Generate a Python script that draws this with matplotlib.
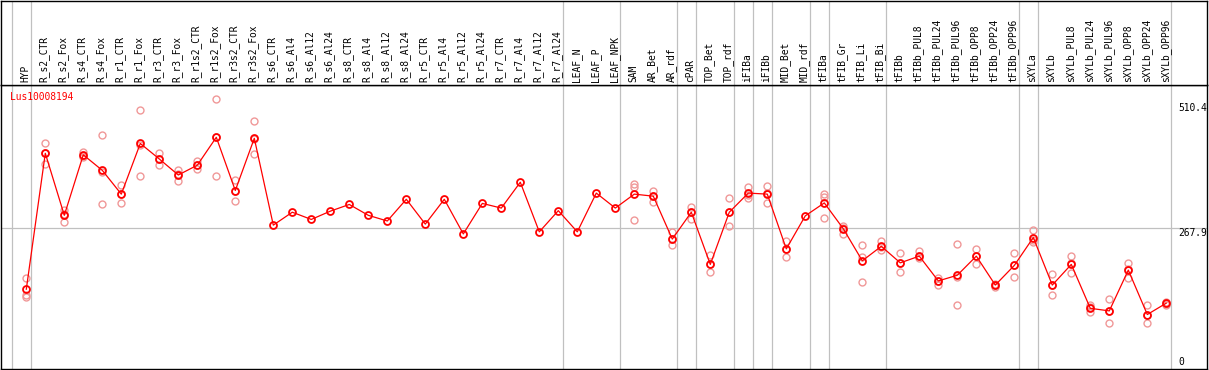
import matplotlib
matplotlib.use('Agg')
import matplotlib.pyplot as plt

# sample names along the top
samples = ['HYP', 'R_s2_CTR', 'R_s2_Fox', 'R_s4_CTR', 'R_s4_Fox', 'R_r1_CTR', 'R_r1_Fox',
           'R_r3_CTR', 'R_r3_Fox', 'R_r1s2_CTR', 'R_r1s2_Fox', 'R_r3s2_CTR', 'R_r3s2_Fox',
           'R_s6_CTR', 'R_s6_Al4', 'R_s6_Al12', 'R_s6_Al24', 'R_s8_CTR', 'R_s8_Al4',
           'R_s8_Al12', 'R_s8_Al24', 'R_r5_CTR', 'R_r5_Al4', 'R_r5_Al12', 'R_r5_Al24',
           'R_r7_CTR', 'R_r7_Al4', 'R_r7_Al12', 'R_r7_Al24', 'LEAF_N', 'LEAF_P', 'LEAF_NPK',
           'SAM', 'AR_Bet', 'AR_rdf', 'cPAR', 'TOP_Bet', 'TOP_rdf', 'iFIBa', 'iFIBb',
           'MID_Bet', 'MID_rdf', 'tFIBa', 'tFIB_Gr', 'tFIB_Li', 'tFIB_Bi', 'tFIBb',
           'tFIBb_PUL8', 'tFIBb_PUL24', 'tFIBb_PUL96', 'tFIBb_OPP8', 'tFIBb_OPP24',
           'tFIBb_OPP96', 'sXYLa', 'sXYLb', 'sXYLb_PUL8', 'sXYLb_PUL24', 'sXYLb_PUL96',
           'sXYLb_OPP8', 'sXYLb_OPP24', 'sXYLb_OPP96']

# mean expression per sample
means = [150, 413, 293, 410, 380, 334, 432, 402, 371, 390, 444, 341, 442,
         274, 299, 285, 301, 314, 293, 282, 324, 276, 324, 257, 316,
         307, 357, 261, 302, 261, 336, 307,
         334, 330, 247, 299, 198, 299, 336, 334, 228, 292, 317, 267, 205, 233,
         201, 214, 166, 177, 214, 158, 196, 250, 158, 198, 113, 108, 187, 101, 123]

# replicate values (empty where only the mean is shown)
reps = [[172, 139, 134], [432, 413, 392], [303, 296, 280], [416, 408, 405],
        [448, 377, 315], [352, 334, 316], [496, 430, 370], [414, 402, 390],
        [380, 372, 360], [399, 390, 383], [519, 445, 369], [361, 341, 320],
        [475, 440, 411],
        [], [], [], [], [], [], [], [], [], [], [], [], [], [], [], [], [], [], [],
        [354, 347, 283], [340, 330, 319], [261, 247, 236], [310, 300, 286],
        [216, 198, 183], [326, 300, 272], [348, 333, 326], [350, 337, 316],
        [244, 228, 212], [], [335, 328, 287], [273, 268, 257], [235, 213, 164],
        [243, 232, 226], [220, 200, 183], [223, 214, 210], [172, 166, 158],
        [238, 174, 119], [228, 214, 198], [160, 159, 155], [220, 196, 173],
        [265, 245, 242], [179, 158, 139], [214, 200, 181], [119, 115, 105],
        [131, 108, 85], [201, 189, 171], [119, 100, 85], [125, 122, 120]]

# group separators sit after these sample indexes
group_ends = [-1, 0, 28, 31, 34, 35, 37, 38, 39, 41, 42, 45, 52, 53, 60]

gene = 'Lus10008194'
yticks = [0, 267.9, 510.4]

W, H = 1209, 370
fig = plt.figure(figsize=(W / 100, H / 100), dpi=100)
font = 'DejaVu Sans Mono'
fs = 6.9

x0 = 26.3
step = 19.0
xlim = ((1 - x0) / step, (1207 - x0) / step)

ax = fig.add_axes([1 / W, 1 / H, 1206 / W, 284 / H])
hdr = fig.add_axes([1 / W, 285 / H, 1206 / W, 84 / H])

y0 = 366.7
ys = 0.5167
ax.set_ylim((y0 - 369) / ys, (y0 - 85) / ys)
ax.set_xlim(*xlim)
hdr.set_xlim(*xlim)
hdr.set_ylim(0, 84)

for a in (ax, hdr):
    a.set_xticks([])
    a.set_yticks([])
    for s in a.spines.values():
        s.set_linewidth(1.0)
        s.set_color('black')
    for g in group_ends:
        a.axvline(g + 0.23, color='#c0c0c0', lw=0.9, zorder=0)

ax.axhline(yticks[1], color='#c0c0c0', lw=0.9, zorder=0)

idx = list(range(len(samples)))
for i, r in enumerate(reps):
    if r:
        ax.plot([i] * len(r), r, 'o', ms=5, mfc='none', mec='#f09898', mew=1.0, zorder=2)

ax.plot(idx, means, '-', color='red', lw=0.9, zorder=3)
ax.plot(idx, means, 'o', ms=5, mfc='none', mec='red', mew=1.3, zorder=4)

for i, name in enumerate(samples):
    hdr.text(i - 0.05, 3, name, rotation=90, ha='center', va='bottom',
             family=font, fontsize=fs, color='black')

ax.text(9 / 1206, 1 - 7 / 284, gene, transform=ax.transAxes, ha='left', va='top',
        family=font, fontsize=fs, color='red')

xt = (1178 - x0) / step
ax.text(xt, yticks[2], '510.4', ha='left', va='top', family=font, fontsize=fs)
ax.text(xt, yticks[1], '267.9', ha='left', va='top', family=font, fontsize=fs)
ax.text(xt, yticks[0], '0', ha='left', va='bottom', family=font, fontsize=fs)

fig.savefig('out.png', dpi=100)
